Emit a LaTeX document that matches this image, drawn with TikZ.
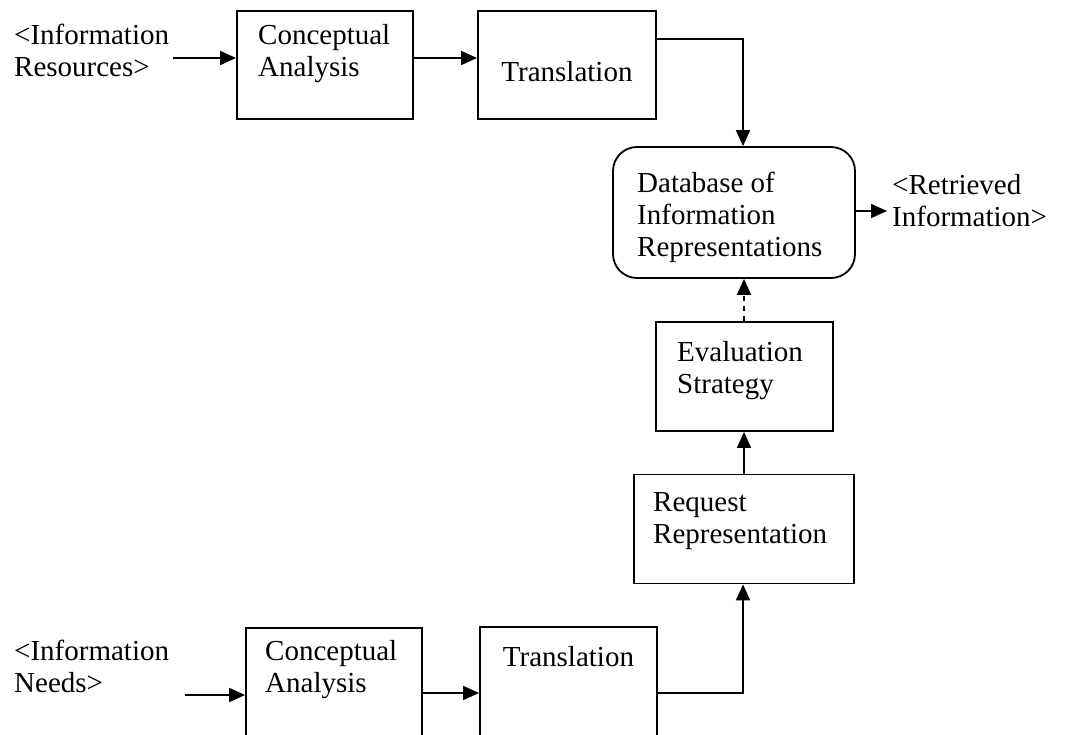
\documentclass[tikz,border=0pt]{standalone}
\usepackage{fontspec}
\setmainfont{Liberation Serif}
\usetikzlibrary{arrows.meta}
\begin{document}
\begin{tikzpicture}[x=1pt,y=-1pt,
  box/.style={draw, line width=1.8pt, rectangle, inner sep=0pt},
  dbbox/.style={draw, line width=1.8pt, rectangle, rounded corners=24pt, inner sep=0pt},
  txt/.style={font=\fontsize{29}{32}\selectfont, align=left, inner sep=0pt, anchor=north west},
  arr/.style={line width=1.7pt, -{Triangle[length=16pt,width=14pt]}},
  dotarr/.style={line width=1.4pt, dash pattern=on 5pt off 5pt, -{Triangle[length=16pt,width=14pt]}}]
\clip (0,0) rectangle (1081,735);
\fill[white] (0,0) rectangle (1081,735);
% boxes
\node[box, minimum width=176pt, minimum height=108pt] (ca1) at (325,65) {};
\node[box, minimum width=178pt, minimum height=108pt] (tr1) at (567,65) {};
\node[dbbox, minimum width=242pt, minimum height=131pt] (db) at (734,212.5) {};
\node[box, minimum width=177pt, minimum height=109pt] (ev) at (744.5,376.5) {};
\node[box, minimum width=220pt, minimum height=109pt] (rq) at (744,529) {};
\node[box, minimum width=176pt, minimum height=120pt] (ca2) at (334,688) {};
\node[box, minimum width=177pt, minimum height=120pt] (tr2) at (568.5,687) {};
% texts
\node[txt] (lres) at (14,24) {<Information\\Resources>};
\node[txt] (tca1) at (258,24) {Conceptual\\Analysis};
\node[txt, anchor=center] (ttr1) at (567,72) {Translation};
\node[txt] (tdb) at (637,172) {Database of\\Information\\Representations};
\node[txt] (lret) at (892,174) {<Retrieved\\Information>};
\node[txt] (tev) at (677,341) {Evaluation\\Strategy};
\node[txt] (trq) at (653,492) {Request\\Representation};
\node[txt] (lneed) at (14,640) {<Information\\Needs>};
\node[txt] (tca2) at (265,640) {Conceptual\\Analysis};
\node[txt, anchor=north] (ttr2) at (568.5,646) {Translation};
% connector helpers
\coordinate (in1) at (173,58);
\coordinate (in2) at (185,695);
\coordinate (c1) at (743,39);
\coordinate (c2) at (743,693);
\coordinate (cv) at (744,0);
\coordinate (out) at (887,211);
% connectors
\draw[arr] (in1) -- (in1 -| ca1.west);
\draw[arr] (ca1.east |- in1) -- (tr1.west |- in1);
\draw[arr] (tr1.east |- c1) -| (db.north -| c1);
\draw[arr] (db.east |- out) -- (out);
\draw[dotarr] (ev.north -| cv) -- (db.south -| cv);
\draw[arr] (rq.north -| cv) -- (ev.south -| cv);
\draw[arr] (in2) -- (in2 -| ca2.west);
\draw[arr] (ca2.east |- c2) -- (tr2.west |- c2);
\draw[arr] (tr2.east |- c2) -| (rq.south -| c2);
\end{tikzpicture}
\end{document}
